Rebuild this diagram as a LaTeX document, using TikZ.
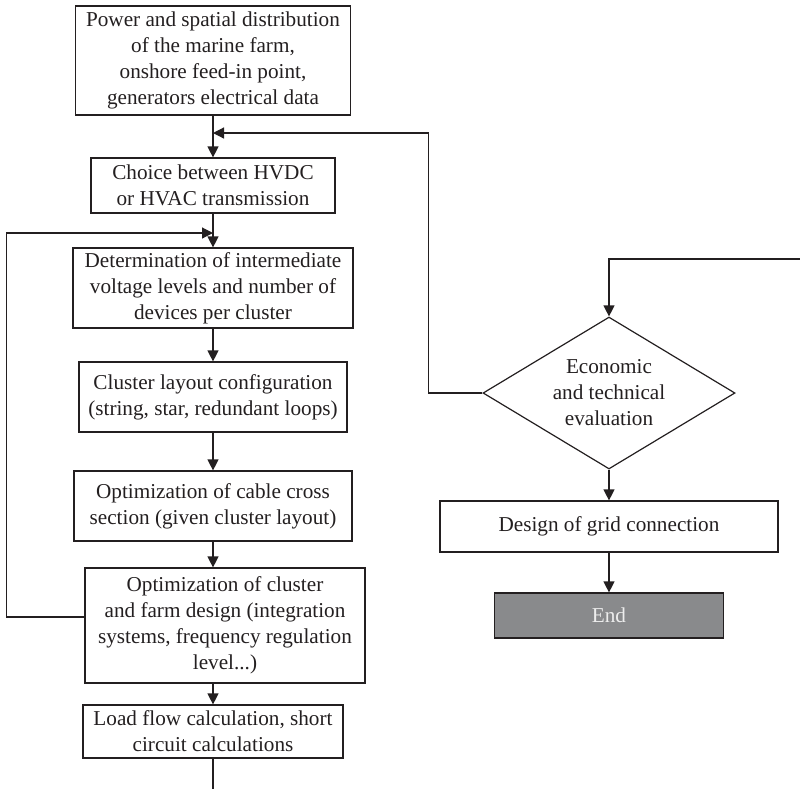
\documentclass[tikz,border=0pt]{standalone}
\usepackage{fontspec}
\setmainfont{Liberation Serif}
\usetikzlibrary{
    positioning,
    calc,
    shapes.geometric,
    arrows.meta
}
\definecolor{Traco}{HTML}{231F20}
\definecolor{CinzaFim}{HTML}{898A8C}
\definecolor{TextoFim}{HTML}{EDEDED}

\begin{document}
\begin{tikzpicture}[
    x=1pt, y=1pt,
    every node/.style={font=\fontsize{10.6}{13}\selectfont, text=Traco},
    caixa/.style={draw=Traco, line width=0.6pt, align=center, inner sep=0pt},
    losango/.style={draw=Traco, line width=0.6pt, align=center, diamond,
        aspect=1.66, inner sep=0pt},
    seta/.style={draw=Traco, line width=0.6pt, -{Triangle[length=5.5pt,width=5.5pt]}},
    linha/.style={draw=Traco, line width=0.6pt}
]
    \useasboundingbox (0,0) rectangle (400,-394.5);

    % coluna principal
    \node[caixa, minimum width=137.5pt, minimum height=54.5pt] (dados) at (106.5,-30.25)
        {Power and spatial distribution\\of the marine farm,\\onshore feed-in point,\\generators electrical data};
    \node[caixa, minimum width=122pt, minimum height=27.5pt] (escolha) at (106.5,-92.75)
        {Choice between HVDC\\or HVAC transmission};
    \node[caixa, minimum width=140pt, minimum height=40pt] (tensao) at (106.5,-144)
        {Determination of intermediate\\voltage levels and number of\\devices per cluster};
    \node[caixa, minimum width=134pt, minimum height=35pt] (arranjo) at (106.5,-198.5)
        {Cluster layout configuration\\(string, star, redundant loops)};
    \node[caixa, minimum width=139pt, minimum height=35pt] (cabo) at (106.5,-253)
        {Optimization of cable cross\\section (given cluster layout)};
    \node[caixa, minimum width=140pt, minimum height=57.5pt] (otimiz) at (112.5,-312.75)
        {Optimization of cluster\\and farm design (integration\\systems, frequency regulation\\level...)};
    \node[caixa, minimum width=130pt, minimum height=26.5pt] (fluxo) at (106.5,-365.75)
        {Load flow calculation, short\\circuit calculations};

    % coluna da direita
    \node[losango, minimum width=126pt, minimum height=76pt] (avaliacao) at (304.5,-196.5)
        {Economic\\and technical\\evaluation};
    \node[caixa, minimum width=169pt, minimum height=25.5pt] (rede) at (304.5,-263.25)
        {Design of grid connection};
    \node[caixa, fill=CinzaFim, text=TextoFim, minimum width=114.5pt, minimum height=22.5pt] (fim) at (304.5,-307.75)
        {End};

    \coordinate (retorno1) at (106.5,-66.5);
    \coordinate (retorno2) at (106.5,-116.5);
    \coordinate (entrada) at (400,-129.5);
    \coordinate (saida) at (106.5,-394.5);

    \draw[seta] (dados) -- (escolha);
    \draw[seta] (escolha) -- (tensao);
    \draw[seta] (tensao) -- (arranjo);
    \draw[seta] (arranjo) -- (cabo);
    \draw[seta] (cabo.south) -- (cabo.south |- otimiz.north);
    \draw[seta] (otimiz.south -| fluxo) -- (fluxo.north);
    \draw[linha] (fluxo) -- (saida);

    \draw[seta] (avaliacao.west) -- ++(-27,0) |- (retorno1);
    \draw[seta] ([yshift=4.25pt]otimiz.west) -- ++(-39,0) |- (retorno2);
    \draw[seta] (entrada) -| (avaliacao.north);
    \draw[seta] (avaliacao) -- (rede);
    \draw[seta] (rede) -- (fim);
\end{tikzpicture}
\end{document}
